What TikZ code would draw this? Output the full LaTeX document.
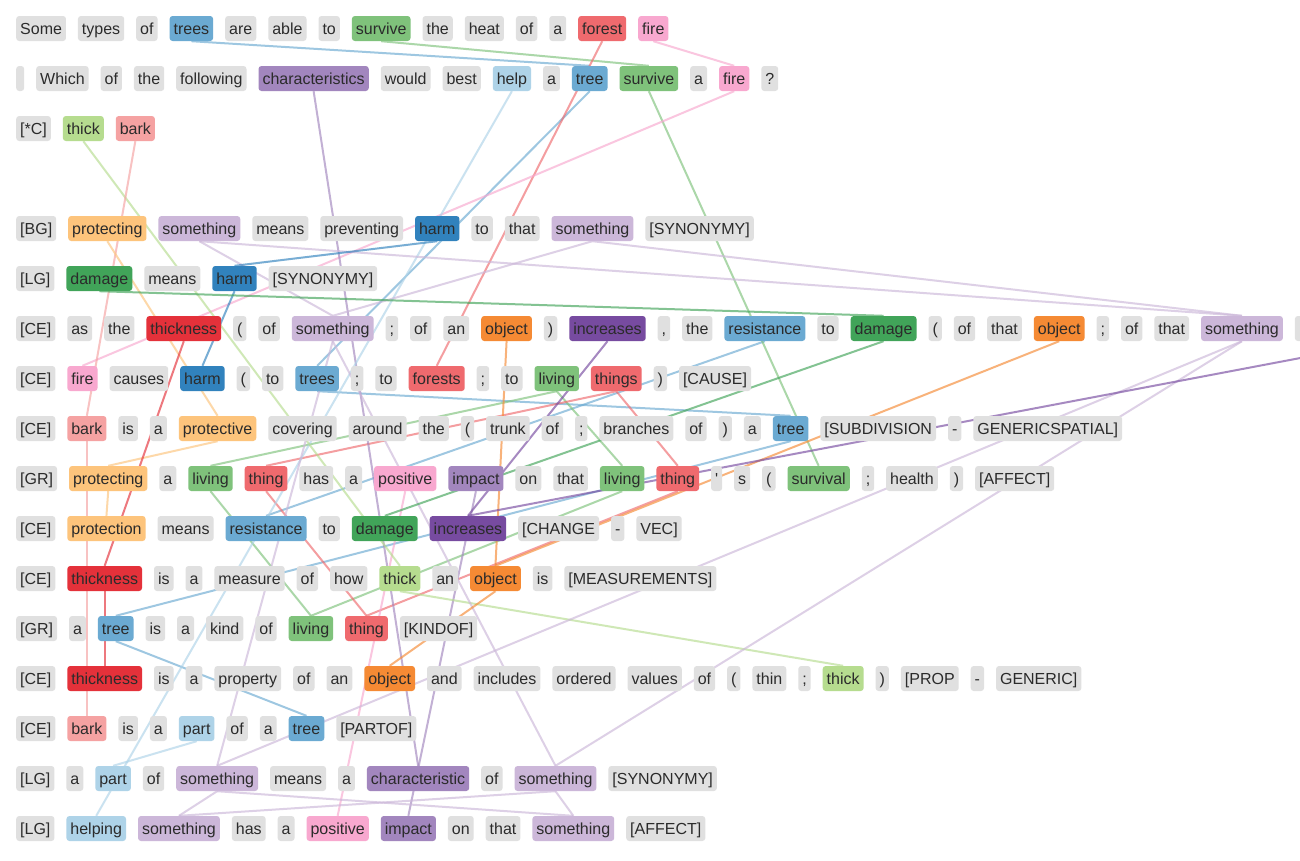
\documentclass[tikz,border=0pt]{standalone}
\usepackage{fontspec}
\setmainfont{Liberation Sans}
\usetikzlibrary{chains,positioning}
\definecolor{tokGray}{HTML}{E0E0E0}
\definecolor{tokText}{HTML}{2B2B2B}
\definecolor{cTree}{HTML}{6BAAD2}
\definecolor{cHelp}{HTML}{AED3E8}
\definecolor{cHarm}{HTML}{3182BD}
\definecolor{cSurv}{HTML}{7FC27B}
\definecolor{cThick}{HTML}{B6DC8F}
\definecolor{cDmg}{HTML}{41A459}
\definecolor{cForest}{HTML}{EF6A6E}
\definecolor{cBark}{HTML}{F5A2A2}
\definecolor{cThk}{HTML}{E4313A}
\definecolor{cFire}{HTML}{F8A8CF}
\definecolor{cProt}{HTML}{FDC47C}
\definecolor{cObj}{HTML}{F58A34}
\definecolor{cChar}{HTML}{A286BE}
\definecolor{cSome}{HTML}{CCB7D9}
\definecolor{cIncr}{HTML}{774BA0}
\pgfdeclarelayer{bg}
\pgfsetlayers{bg,main}
\tikzset{
  tok/.style={fill=#1, rounded corners=3pt, inner xsep=4pt, inner ysep=0pt,
    minimum height=25pt, text height=13.75pt, text depth=2.25pt,
    text=tokText, font=\fontsize{16}{19}\selectfont},
  tok/.default=tokGray,
  wg/.style={on chain, tok},
  wc/.style={on chain, tok=#1},
  ln/.style={draw=#1, line width=2pt, draw opacity=0.65},
}
\begin{document}
\begin{tikzpicture}[x=1pt, y=-1pt, node distance=11.6pt]
\useasboundingbox (0,0) rectangle (1300,860);
\clip (0,0) rectangle (1300,860);
\begin{pgfonlayer}{bg}
\fill[white] (0,0) rectangle (1300,860);
\end{pgfonlayer}

% ---------- row 1
\begin{scope}[start chain=L1 going right]
\node[wg, anchor=west] at (16,28.5) {Some};
\node[wg] {types};
\node[wg] {of};
\node[wc=cTree] {trees};
\node[wg] {are};
\node[wg] {able};
\node[wg] {to};
\node[wc=cSurv] {survive};
\node[wg] {the};
\node[wg] {heat};
\node[wg] {of};
\node[wg] {a};
\node[wc=cForest] {forest};
\node[wc=cFire] {fire};
\end{scope}

% ---------- row 2
\begin{scope}[start chain=L2 going right]
\node[wg, anchor=west] at (16,78.5) {};
\node[wg] {Which};
\node[wg] {of};
\node[wg] {the};
\node[wg] {following};
\node[wc=cChar] {characteristics};
\node[wg] {would};
\node[wg] {best};
\node[wc=cHelp] {help};
\node[wg] {a};
\node[wc=cTree] {tree};
\node[wc=cSurv] {survive};
\node[wg] {a};
\node[wc=cFire] {fire};
\node[wg] {?};
\end{scope}

% ---------- row 3
\begin{scope}[start chain=L3 going right]
\node[wg, anchor=west] at (16,128.5) {[*C]};
\node[wc=cThick] {thick};
\node[wc=cBark] {bark};
\end{scope}

% ---------- row 4
\begin{scope}[start chain=L4 going right]
\node[wg, anchor=west] at (16,228.5) {[BG]};
\node[wc=cProt] {protecting};
\node[wc=cSome] {something};
\node[wg] {means};
\node[wg] {preventing};
\node[wc=cHarm] {harm};
\node[wg] {to};
\node[wg] {that};
\node[wc=cSome] {something};
\node[wg] {[SYNONYMY]};
\end{scope}

% ---------- row 5
\begin{scope}[start chain=L5 going right]
\node[wg, anchor=west] at (16,278.5) {[LG]};
\node[wc=cDmg] {damage};
\node[wg] {means};
\node[wc=cHarm] {harm};
\node[wg] {[SYNONYMY]};
\end{scope}

% ---------- row 6
\begin{scope}[start chain=L6 going right]
\node[wg, anchor=west] at (16,328.5) {[CE]};
\node[wg] {as};
\node[wg] {the};
\node[wc=cThk] {thickness};
\node[wg] {(};
\node[wg] {of};
\node[wc=cSome] {something};
\node[wg] {;};
\node[wg] {of};
\node[wg] {an};
\node[wc=cObj] {object};
\node[wg] {)};
\node[wc=cIncr] {increases};
\node[wg] {,};
\node[wg] {the};
\node[wc=cTree] {resistance};
\node[wg] {to};
\node[wc=cDmg] {damage};
\node[wg] {(};
\node[wg] {of};
\node[wg] {that};
\node[wc=cObj] {object};
\node[wg] {;};
\node[wg] {of};
\node[wg] {that};
\node[wc=cSome] {something};
\node[wg, minimum width=17pt] {};
\end{scope}
\coordinate (incrHidden) at (1390,341);

% ---------- row 7
\begin{scope}[start chain=L7 going right]
\node[wg, anchor=west] at (16,378.5) {[CE]};
\node[wc=cFire] {fire};
\node[wg] {causes};
\node[wc=cHarm] {harm};
\node[wg] {(};
\node[wg] {to};
\node[wc=cTree] {trees};
\node[wg] {;};
\node[wg] {to};
\node[wc=cForest] {forests};
\node[wg] {;};
\node[wg] {to};
\node[wc=cSurv] {living};
\node[wc=cForest] {things};
\node[wg] {)};
\node[wg] {[CAUSE]};
\end{scope}

% ---------- row 8
\begin{scope}[start chain=L8 going right]
\node[wg, anchor=west] at (16,428.5) {[CE]};
\node[wc=cBark] {bark};
\node[wg] {is};
\node[wg] {a};
\node[wc=cProt] {protective};
\node[wg] {covering};
\node[wg] {around};
\node[wg] {the};
\node[wg] {(};
\node[wg] {trunk};
\node[wg] {of};
\node[wg] {;};
\node[wg] {branches};
\node[wg] {of};
\node[wg] {)};
\node[wg] {a};
\node[wc=cTree] {tree};
\node[wg] {[SUBDIVISION};
\node[wg] {-};
\node[wg] {GENERICSPATIAL]};
\end{scope}

% ---------- row 9
\begin{scope}[start chain=L9 going right]
\node[wg, anchor=west] at (16,478.5) {[GR]};
\node[wc=cProt] {protecting};
\node[wg] {a};
\node[wc=cSurv] {living};
\node[wc=cForest] {thing};
\node[wg] {has};
\node[wg] {a};
\node[wc=cFire] {positive};
\node[wc=cChar] {impact};
\node[wg] {on};
\node[wg] {that};
\node[wc=cSurv] {living};
\node[wc=cForest] {thing};
\node[wg] {\textquotesingle};
\node[wg] {s};
\node[wg] {(};
\node[wc=cSurv] {survival};
\node[wg] {;};
\node[wg] {health};
\node[wg] {)};
\node[wg] {[AFFECT]};
\end{scope}

% ---------- row 10
\begin{scope}[start chain=L10 going right]
\node[wg, anchor=west] at (16,528.5) {[CE]};
\node[wc=cProt] {protection};
\node[wg] {means};
\node[wc=cTree] {resistance};
\node[wg] {to};
\node[wc=cDmg] {damage};
\node[wc=cIncr] {increases};
\node[wg] {[CHANGE};
\node[wg] {-};
\node[wg] {VEC]};
\end{scope}

% ---------- row 11
\begin{scope}[start chain=L11 going right]
\node[wg, anchor=west] at (16,578.5) {[CE]};
\node[wc=cThk] {thickness};
\node[wg] {is};
\node[wg] {a};
\node[wg] {measure};
\node[wg] {of};
\node[wg] {how};
\node[wc=cThick] {thick};
\node[wg] {an};
\node[wc=cObj] {object};
\node[wg] {is};
\node[wg] {[MEASUREMENTS]};
\end{scope}

% ---------- row 12
\begin{scope}[start chain=L12 going right]
\node[wg, anchor=west] at (16,628.5) {[GR]};
\node[wg] {a};
\node[wc=cTree] {tree};
\node[wg] {is};
\node[wg] {a};
\node[wg] {kind};
\node[wg] {of};
\node[wc=cSurv] {living};
\node[wc=cForest] {thing};
\node[wg] {[KINDOF]};
\end{scope}

% ---------- row 13
\begin{scope}[start chain=L13 going right]
\node[wg, anchor=west] at (16,678.5) {[CE]};
\node[wc=cThk] {thickness};
\node[wg] {is};
\node[wg] {a};
\node[wg] {property};
\node[wg] {of};
\node[wg] {an};
\node[wc=cObj] {object};
\node[wg] {and};
\node[wg] {includes};
\node[wg] {ordered};
\node[wg] {values};
\node[wg] {of};
\node[wg] {(};
\node[wg] {thin};
\node[wg] {;};
\node[wc=cThick] {thick};
\node[wg] {)};
\node[wg] {[PROP};
\node[wg] {-};
\node[wg] {GENERIC]};
\end{scope}

% ---------- row 14
\begin{scope}[start chain=L14 going right]
\node[wg, anchor=west] at (16,728.5) {[CE]};
\node[wc=cBark] {bark};
\node[wg] {is};
\node[wg] {a};
\node[wc=cHelp] {part};
\node[wg] {of};
\node[wg] {a};
\node[wc=cTree] {tree};
\node[wg] {[PARTOF]};
\end{scope}

% ---------- row 15
\begin{scope}[start chain=L15 going right]
\node[wg, anchor=west] at (16,778.5) {[LG]};
\node[wg] {a};
\node[wc=cHelp] {part};
\node[wg] {of};
\node[wc=cSome] {something};
\node[wg] {means};
\node[wg] {a};
\node[wc=cChar] {characteristic};
\node[wg] {of};
\node[wc=cSome] {something};
\node[wg] {[SYNONYMY]};
\end{scope}

% ---------- row 16
\begin{scope}[start chain=L16 going right]
\node[wg, anchor=west] at (16,828.5) {[LG]};
\node[wc=cHelp] {helping};
\node[wc=cSome] {something};
\node[wg] {has};
\node[wg] {a};
\node[wc=cFire] {positive};
\node[wc=cChar] {impact};
\node[wg] {on};
\node[wg] {that};
\node[wc=cSome] {something};
\node[wg] {[AFFECT]};
\end{scope}

% ---------- connectors
\begin{pgfonlayer}{bg}
% tree
\draw[ln=cTree] (L1-4.south) -- (L2-11.north);
\draw[ln=cTree] (L2-11.south) -- (L7-7.north);
\draw[ln=cTree] (L7-7.south) -- (L8-17.north);
\draw[ln=cTree] (L8-17.south) -- (L12-3.north);
\draw[ln=cTree] (L12-3.south) -- (L14-8.north);
\draw[ln=cTree] (L6-16.south) -- (L10-4.north);
% survive / living
\draw[ln=cSurv] (L1-8.south) -- (L2-12.north);
\draw[ln=cSurv] (L2-12.south) -- (L9-17.north);
\draw[ln=cSurv] (L7-13.south) -- (L9-4.north);
\draw[ln=cSurv] (L7-13.south) -- (L9-12.north);
\draw[ln=cSurv] (L9-4.south) -- (L12-8.north);
\draw[ln=cSurv] (L9-12.south) -- (L12-8.north);
% forest / thing
\draw[ln=cForest] (L1-13.south) -- (L7-10.north);
\draw[ln=cForest] (L7-14.south) -- (L9-5.north);
\draw[ln=cForest] (L7-14.south) -- (L9-13.north);
\draw[ln=cForest] (L9-5.south) -- (L12-9.north);
\draw[ln=cForest] (L9-13.south) -- (L12-9.north);
% fire / positive
\draw[ln=cFire] (L1-14.south) -- (L2-14.north);
\draw[ln=cFire] (L2-14.south) -- (L7-2.north);
\draw[ln=cFire] (L9-8.south) -- (L16-6.north);
% characteristic / impact
\draw[ln=cChar] (L2-6.south) -- (L15-8.north);
\draw[ln=cChar] (L9-9.south) -- (L16-7.north);
% help / part
\draw[ln=cHelp] (L2-9.south) -- (L16-2.north);
\draw[ln=cHelp] (L14-5.south) -- (L15-3.north);
% thick
\draw[ln=cThick] (L3-2.south) -- (L11-8.north);
\draw[ln=cThick] (L11-8.south) -- (L13-17.north);
% bark
\draw[ln=cBark] (L3-3.south) -- (L8-2.north);
\draw[ln=cBark] (L8-2.south) -- (L14-2.north);
% protect
\draw[ln=cProt] (L4-2.south) -- (L8-5.north);
\draw[ln=cProt] (L8-5.south) -- (L9-2.north);
\draw[ln=cProt] (L9-2.south) -- (L10-2.north);
% something
\draw[ln=cSome] (L4-3.south) -- (L6-7.north);
\draw[ln=cSome] (L4-3.south) -- (L6-26.north);
\draw[ln=cSome] (L4-9.south) -- (L6-7.north);
\draw[ln=cSome] (L4-9.south) -- (L6-26.north);
\draw[ln=cSome] (L6-7.south) -- (L15-5.north);
\draw[ln=cSome] (L6-7.south) -- (L15-10.north);
\draw[ln=cSome] (L6-26.south) -- (L15-5.north);
\draw[ln=cSome] (L6-26.south) -- (L15-10.north);
\draw[ln=cSome] (L15-5.south) -- (L16-3.north);
\draw[ln=cSome] (L15-5.south) -- (L16-10.north);
\draw[ln=cSome] (L15-10.south) -- (L16-3.north);
\draw[ln=cSome] (L15-10.south) -- (L16-10.north);
% harm
\draw[ln=cHarm] (L4-6.south) -- (L5-4.north);
\draw[ln=cHarm] (L5-4.south) -- (L7-4.north);
% damage
\draw[ln=cDmg] (L5-2.south) -- (L6-18.north);
\draw[ln=cDmg] (L6-18.south) -- (L10-6.north);
% thickness
\draw[ln=cThk] (L6-4.south) -- (L11-2.north);
\draw[ln=cThk] (L11-2.south) -- (L13-2.north);
% object
\draw[ln=cObj] (L6-11.south) -- (L11-10.north);
\draw[ln=cObj] (L6-22.south) -- (L11-10.north);
\draw[ln=cObj] (L11-10.south) -- (L13-8.north);
% increases
\draw[ln=cIncr] (L6-13.south) -- (L10-7.north);
\draw[ln=cIncr] (incrHidden) -- (L10-7.north);
\end{pgfonlayer}
\end{tikzpicture}
\end{document}
